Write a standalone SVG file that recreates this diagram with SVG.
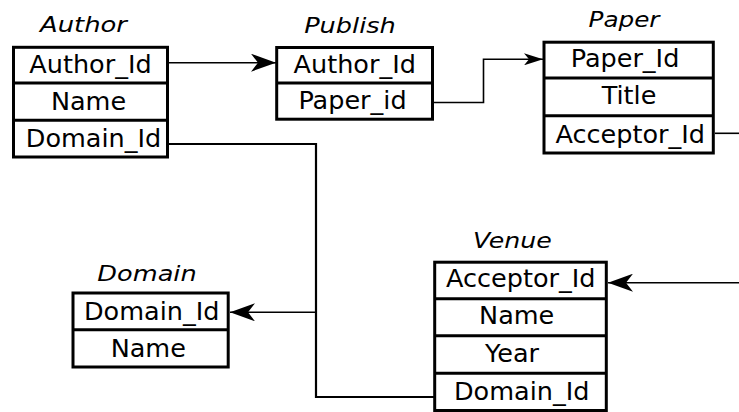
<svg xmlns="http://www.w3.org/2000/svg" width="739" height="412" viewBox="0 0 739 412">
<style>
.box{fill:#fff;stroke:#000;stroke-width:3}
.sep{stroke:#000;stroke-width:3}
.t{font-family:"DejaVu Sans",sans-serif;font-size:25.5px;fill:#000;text-anchor:middle}
.title{font-family:"DejaVu Sans",sans-serif;font-size:22px;font-style:italic;fill:#000;text-anchor:middle}
.ln{fill:none;stroke:#000;stroke-width:1.6}
.ln2{fill:none;stroke:#000;stroke-width:2.2}
</style>
<defs>
<marker id="arrL" markerUnits="userSpaceOnUse" markerWidth="25" markerHeight="18" viewBox="0 0 25 18" refX="25" refY="9" orient="auto">
<path d="M0,0 L25,9 L0,18 L7,9 Z" fill="#000"/>
</marker>
<marker id="arrS" markerUnits="userSpaceOnUse" markerWidth="19" markerHeight="12" viewBox="0 0 19 12" refX="19" refY="6" orient="auto">
<path d="M0,0 L19,6 L0,12 L5,6 Z" fill="#000"/>
</marker>
</defs>

<g id="connectors">
<path class="ln" d="M169,62.7 H276" marker-end="url(#arrL)"/>
<path class="ln" d="M434,102.5 H483.5 V59.3 H543" marker-end="url(#arrS)"/>
<path class="ln" d="M715,133.3 H739"/>
<path class="ln" d="M739,282.7 H608" marker-end="url(#arrL)"/>
<path class="ln2" d="M169,144 H316 V397 H434"/>
<path class="ln" d="M316,312.3 H230" marker-end="url(#arrL)"/>
</g>

<g id="author">
<text class="title" x="83.5" y="31.7" textLength="87" lengthAdjust="spacingAndGlyphs">Author</text>
<rect class="box" x="13.5" y="47.3" width="154" height="109.7"/>
<line class="sep" x1="13.5" y1="83" x2="167.5" y2="83"/>
<line class="sep" x1="13.5" y1="120.3" x2="167.5" y2="120.3"/>
<text class="t" x="90.5" y="72.7">Author_Id</text>
<text class="t" x="88.5" y="110">Name</text>
<text class="t" x="93.5" y="146.7">Domain_Id</text>
</g>

<g id="publish">
<text class="title" x="350" y="33.3" textLength="91.7" lengthAdjust="spacingAndGlyphs">Publish</text>
<rect class="box" x="276.7" y="47.5" width="155.8" height="71.7"/>
<line class="sep" x1="276.7" y1="83" x2="432.5" y2="83"/>
<text class="t" x="354.7" y="72.7">Author_Id</text>
<text class="t" x="352.5" y="109.3">Paper_id</text>
</g>

<g id="paper">
<text class="title" x="624" y="26.7" textLength="71" lengthAdjust="spacingAndGlyphs">Paper</text>
<rect class="box" x="544" y="42.2" width="169.3" height="110.8"/>
<line class="sep" x1="544" y1="78" x2="713.3" y2="78"/>
<line class="sep" x1="544" y1="115.8" x2="713.3" y2="115.8"/>
<text class="t" x="625" y="66.7">Paper_Id</text>
<text class="t" x="629" y="104">Title</text>
<text class="t" x="630.3" y="142.7">Acceptor_Id</text>
</g>

<g id="domain">
<text class="title" x="147" y="281" textLength="99.3" lengthAdjust="spacingAndGlyphs">Domain</text>
<rect class="box" x="73" y="293" width="155.2" height="74"/>
<line class="sep" x1="73" y1="329.7" x2="228.2" y2="329.7"/>
<text class="t" x="151.7" y="320">Domain_Id</text>
<text class="t" x="148.3" y="356.7">Name</text>
</g>

<g id="venue">
<text class="title" x="512.3" y="247.7" textLength="78.7" lengthAdjust="spacingAndGlyphs">Venue</text>
<rect class="box" x="434.7" y="262.2" width="171.6" height="148.3"/>
<line class="sep" x1="434.7" y1="298.7" x2="606.3" y2="298.7"/>
<line class="sep" x1="434.7" y1="335.7" x2="606.3" y2="335.7"/>
<line class="sep" x1="434.7" y1="373.3" x2="606.3" y2="373.3"/>
<text class="t" x="520.8" y="286.7">Acceptor_Id</text>
<text class="t" x="516.7" y="324">Name</text>
<text class="t" x="512" y="361.7">Year</text>
<text class="t" x="521.7" y="400">Domain_Id</text>
</g>
</svg>
